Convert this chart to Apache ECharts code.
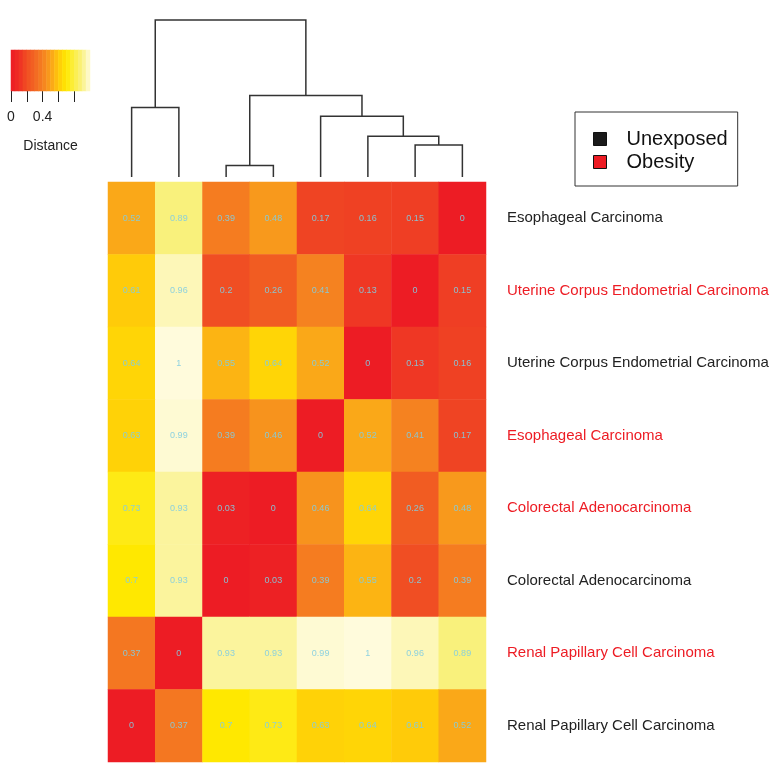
<!DOCTYPE html>
<html>
<head>
<meta charset="utf-8">
<script src="https://cdn.jsdelivr.net/npm/echarts@6/dist/echarts.min.js"></script>
<style>
html, body { margin: 0; padding: 0; background: #fff; }
#chart { width: 783px; height: 774px; }
</style>
</head>
<body>
<div id="chart"></div>
<script>
// rows top -> bottom, columns left -> right (same samples, dendrogram order)
var rowNames = [
    'Esophageal Carcinoma',
    'Uterine Corpus Endometrial Carcinoma',
    'Uterine Corpus Endometrial Carcinoma',
    'Esophageal Carcinoma',
    'Colorectal Adenocarcinoma',
    'Colorectal Adenocarcinoma',
    'Renal Papillary Cell Carcinoma',
    'Renal Papillary Cell Carcinoma'
];
var rowGroups = ['Unexposed', 'Obesity', 'Unexposed', 'Obesity', 'Obesity', 'Unexposed', 'Obesity', 'Unexposed'];
var colNames = ['c1', 'c2', 'c3', 'c4', 'c5', 'c6', 'c7', 'c8'];
var distances = [
    [0.52, 0.89, 0.39, 0.48, 0.17, 0.16, 0.15, 0],
    [0.61, 0.96, 0.2, 0.26, 0.41, 0.13, 0, 0.15],
    [0.64, 1, 0.55, 0.64, 0.52, 0, 0.13, 0.16],
    [0.63, 0.99, 0.39, 0.46, 0, 0.52, 0.41, 0.17],
    [0.73, 0.93, 0.03, 0, 0.46, 0.64, 0.26, 0.48],
    [0.7, 0.93, 0, 0.03, 0.39, 0.55, 0.2, 0.39],
    [0.37, 0, 0.93, 0.93, 0.99, 1, 0.96, 0.89],
    [0, 0.37, 0.7, 0.73, 0.63, 0.64, 0.61, 0.52]
];
// column dendrogram, hclust style: negative = leaf (1-based), positive = earlier merge
var merges = [
    [-3, -4, 0.114],
    [-7, -8, 0.32],
    [-6, 2, 0.407],
    [-5, 3, 0.607],
    [1, 4, 0.814],
    [-1, -2, 0.694],
    [6, 5, 1.567]
];
// colour key
var keyBins = [0.025, 0.075, 0.125, 0.175, 0.225, 0.275, 0.325, 0.375, 0.425, 0.475,
               0.525, 0.575, 0.625, 0.675, 0.725, 0.775, 0.825, 0.875, 0.925, 0.975];
var keyTicks = [0, 0.2, 0.4, 0.6, 0.8];
var keyTickLabels = [0, 0.4];
var groupColors = { Unexposed: '#1a1a1a', Obesity: '#ed1c24' };
var labelColors = { Unexposed: '#222', Obesity: '#ed1c24' };
var heatColors = ['#ed1c24', '#ee2d24', '#f04e23', '#f26522', '#f57f20', '#f9a01b',
                  '#ffc80a', '#ffe800', '#fbee45', '#f9f182', '#fffbdc'];

var font = '"Liberation Sans", Arial, Helvetica, sans-serif';

var cells = [];
distances.forEach(function (row, r) {
    row.forEach(function (v, c) { cells.push([c, r, v]); });
});

// dendrogram segments from merges
var pos = [], hgt = [], segs = [];
merges.forEach(function (m, i) {
    var xs = [], hs = [];
    [m[0], m[1]].forEach(function (k) {
        if (k < 0) { xs.push(-k - 0.5); hs.push(0); }
        else { xs.push(pos[k - 1]); hs.push(hgt[k - 1]); }
    });
    pos[i] = (xs[0] + xs[1]) / 2;
    hgt[i] = m[2];
    segs.push([xs[0], hs[0], xs[1], hs[1], m[2]]);
});

var chart = echarts.init(document.getElementById('chart'));
chart.setOption({
    backgroundColor: '#fff',
    animation: false,
    textStyle: { fontFamily: font },
    grid: [
        { left: 108, top: 182, width: 378, height: 580 },
        { left: 108, top: 20, width: 378, height: 157 },
        { left: 11, top: 50, width: 79, height: 41 }
    ],
    xAxis: [
        { type: 'category', gridIndex: 0, data: colNames, show: false },
        { type: 'value', gridIndex: 1, min: 0, max: colNames.length, show: false },
        { type: 'category', gridIndex: 2, data: keyBins, show: false },
        {
            type: 'value', gridIndex: 2, min: 0, max: 1, position: 'bottom',
            axisLine: { show: false },
            splitLine: { show: false },
            axisTick: { show: true, length: 11, customValues: keyTicks, lineStyle: { color: '#222', width: 1 } },
            axisLabel: { customValues: keyTickLabels, margin: 19, fontSize: 14, color: '#222', fontFamily: font },
            name: 'Distance', nameLocation: 'middle', nameGap: 48,
            nameTextStyle: { fontSize: 14, color: '#222', fontFamily: font }
        }
    ],
    yAxis: [
        {
            type: 'category', gridIndex: 0, data: rowNames, inverse: true, position: 'right',
            axisLine: { show: false }, axisTick: { show: false },
            axisLabel: {
                margin: 21, fontSize: 15, fontFamily: font,
                color: function (v, i) { return labelColors[rowGroups[i]]; }
            }
        },
        { type: 'value', gridIndex: 1, min: 0, max: merges[merges.length - 1][2], show: false },
        { type: 'category', gridIndex: 2, data: ['k'], show: false }
    ],
    visualMap: {
        type: 'continuous', show: false, min: 0, max: 1, seriesIndex: [0, 1],
        inRange: { color: heatColors }
    },
    legend: {
        left: 575, top: 112, orient: 'vertical',
        data: ['Unexposed', 'Obesity'],
        icon: 'rect', itemWidth: 13, itemHeight: 13, itemGap: 3,
        borderColor: '#333', borderWidth: 1, padding: [17, 10, 14, 18],
        textStyle: { fontSize: 20, color: '#111', padding: [0, 0, 0, 15], fontFamily: font },
        itemStyle: { borderColor: '#111', borderWidth: 1, opacity: 1 }
    },
    series: [
        {
            type: 'heatmap', xAxisIndex: 0, yAxisIndex: 0, data: cells,
            label: {
                show: true, fontSize: 9, fontFamily: font, color: 'rgba(130,205,225,0.9)',
                formatter: function (p) { return String(p.value[2]); }
            }
        },
        {
            type: 'heatmap', xAxisIndex: 2, yAxisIndex: 2,
            data: keyBins.map(function (v, i) { return [i, 0, v]; })
        },
        {
            type: 'custom', xAxisIndex: 1, yAxisIndex: 1, data: segs,
            renderItem: function (params, api) {
                var a = api.coord([api.value(0), api.value(1)]);
                var b = api.coord([api.value(0), api.value(4)]);
                var c = api.coord([api.value(2), api.value(4)]);
                var d = api.coord([api.value(2), api.value(3)]);
                return {
                    type: 'polyline',
                    shape: { points: [a, b, c, d] },
                    style: { stroke: '#333', lineWidth: 1.5, fill: null }
                };
            }
        },
        { type: 'scatter', name: 'Unexposed', xAxisIndex: 0, yAxisIndex: 0, data: [], itemStyle: { color: groupColors.Unexposed, opacity: 1 } },
        { type: 'scatter', name: 'Obesity', xAxisIndex: 0, yAxisIndex: 0, data: [], itemStyle: { color: groupColors.Obesity, opacity: 1 } }
    ]
});
</script>
</body>
</html>
